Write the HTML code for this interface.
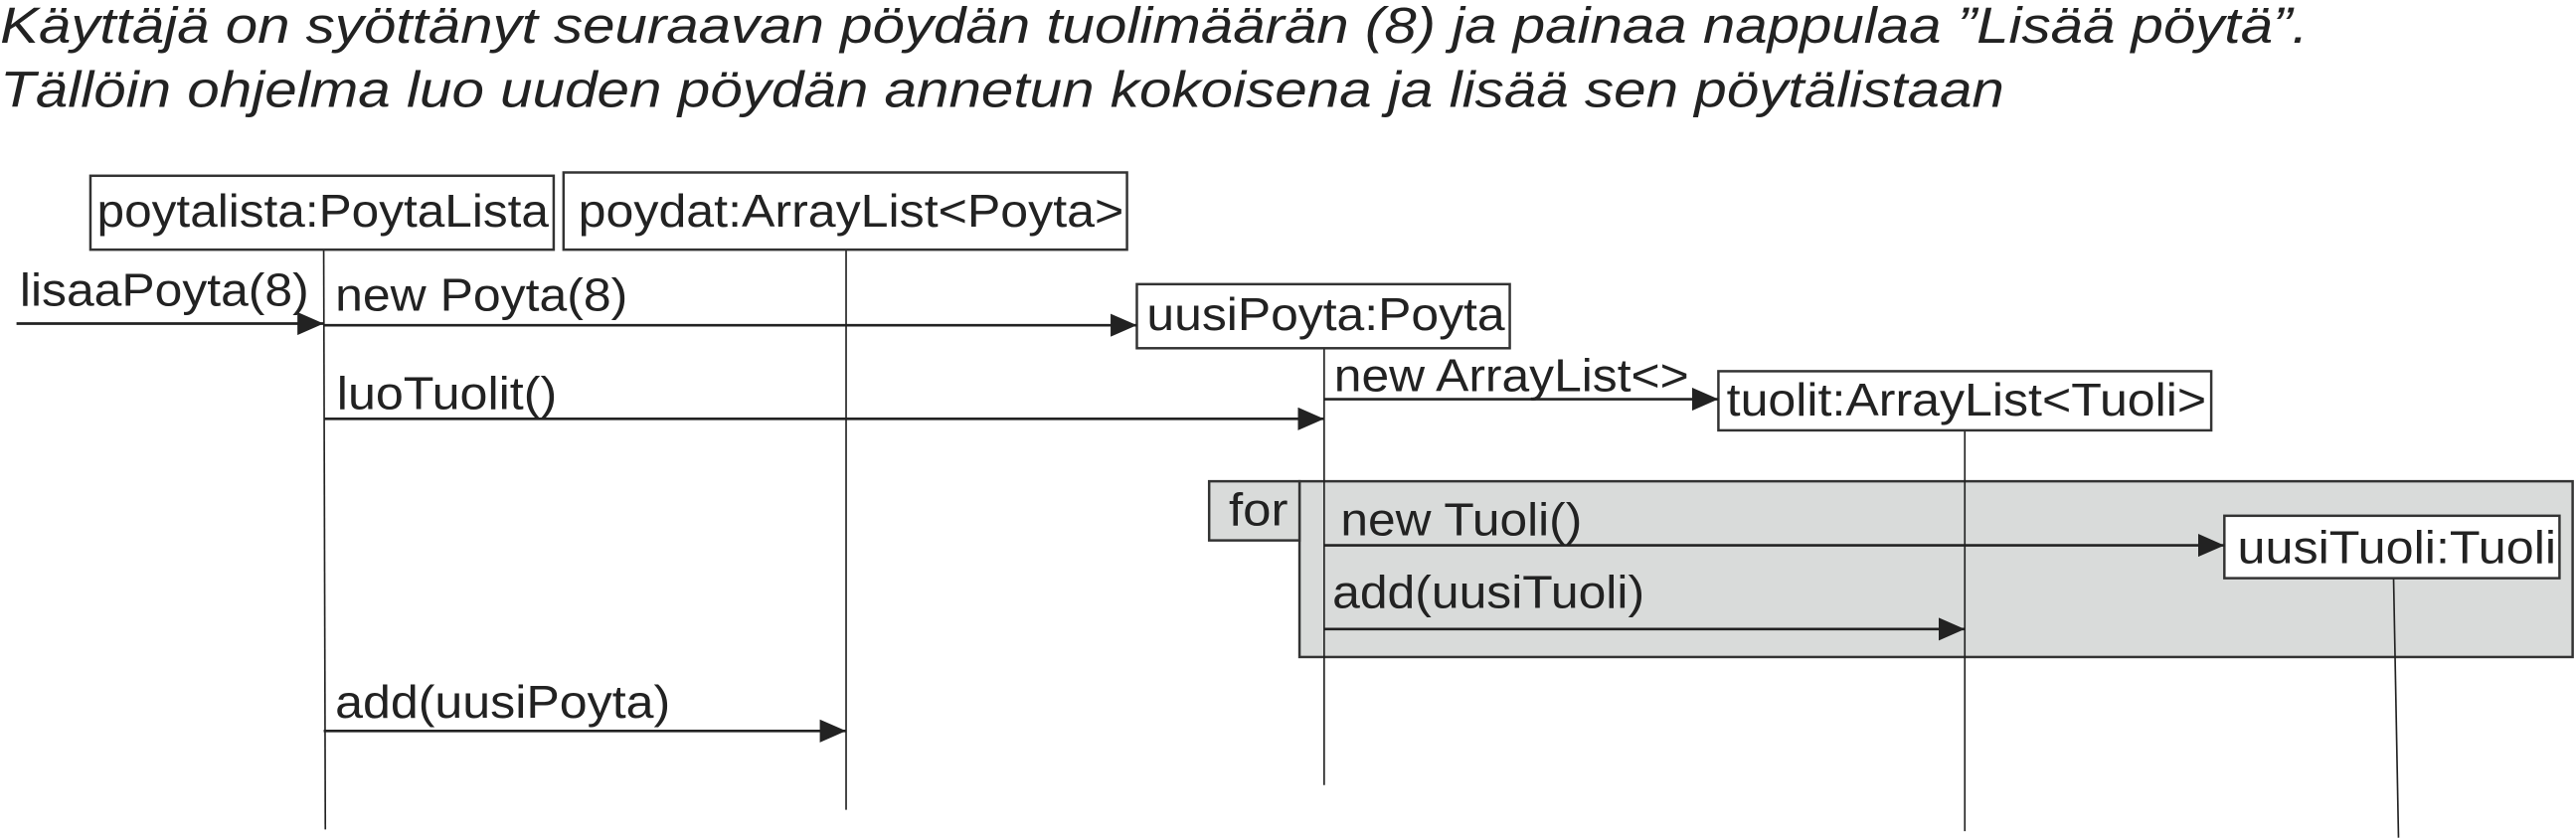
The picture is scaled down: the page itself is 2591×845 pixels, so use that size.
<!DOCTYPE html>
<html><head><meta charset="utf-8"><style>html,body{margin:0;padding:0;background:#fff}svg{display:block}</style></head>
<body>
<svg width="2591" height="845" viewBox="0 0 1568 511.4" xmlns="http://www.w3.org/2000/svg" font-family="Liberation Sans, sans-serif" fill="#222">
<defs><marker id="a" markerWidth="16" markerHeight="14" refX="16" refY="7" orient="auto" markerUnits="userSpaceOnUse" viewBox="0 0 16 14"><path d="M0,0 L16,7 L0,14 Z" fill="#222"/></marker></defs>
<g font-style="italic" font-size="31">
<text x="0" y="26" textLength="1405" lengthAdjust="spacingAndGlyphs">Käyttäjä on syöttänyt seuraavan pöydän tuolimäärän (8) ja painaa nappulaa ”Lisää pöytä”.</text>
<text x="0" y="65" textLength="1220" lengthAdjust="spacingAndGlyphs">Tällöin ohjelma luo uuden pöydän annetun kokoisena ja lisää sen pöytälistaan</text>
</g>
<rect x="791" y="293" width="775" height="107" fill="#d9dbda" stroke="#333" stroke-width="1.5"/>
<rect x="736" y="293" width="55" height="36" fill="#d9dbda" stroke="#333" stroke-width="1.5"/>
<g stroke="#222" stroke-width="1">
<line x1="197" y1="152" x2="198" y2="505"/>
<line x1="515" y1="152" x2="515" y2="493"/>
<line x1="806" y1="212" x2="806" y2="478"/>
<line x1="1196" y1="262" x2="1196" y2="506"/>
<line x1="1457" y1="352" x2="1460" y2="510"/>
</g>
<g fill="#fff" stroke="#333" stroke-width="1.5">
<rect x="55" y="107" width="282" height="45"/>
<rect x="343" y="105" width="343" height="47"/>
<rect x="692" y="173" width="227" height="39"/>
<rect x="1046" y="226" width="300" height="36"/>
<rect x="1354" y="314" width="204" height="38"/>
</g>
<g stroke="#222" stroke-width="1.6" marker-end="url(#a)">
<line x1="10" y1="197" x2="197" y2="197"/>
<line x1="197" y1="198" x2="692" y2="198"/>
<line x1="197" y1="255" x2="806" y2="255"/>
<line x1="806" y1="243" x2="1046" y2="243"/>
<line x1="806" y1="332" x2="1354" y2="332"/>
<line x1="806" y1="383" x2="1196" y2="383"/>
<line x1="197" y1="445" x2="515" y2="445"/>
</g>
<g font-size="28">
<text x="59" y="138" textLength="275" lengthAdjust="spacingAndGlyphs">poytalista:PoytaLista</text>
<text x="352" y="138" textLength="332" lengthAdjust="spacingAndGlyphs">poydat:ArrayList&lt;Poyta&gt;</text>
<text x="698" y="201" textLength="218" lengthAdjust="spacingAndGlyphs">uusiPoyta:Poyta</text>
<text x="1051" y="253" textLength="292" lengthAdjust="spacingAndGlyphs">tuolit:ArrayList&lt;Tuoli&gt;</text>
<text x="1362" y="343" textLength="194" lengthAdjust="spacingAndGlyphs">uusiTuoli:Tuoli</text>
<text x="12" y="186" textLength="176" lengthAdjust="spacingAndGlyphs">lisaaPoyta(8)</text>
<text x="204" y="189" textLength="178" lengthAdjust="spacingAndGlyphs">new Poyta(8)</text>
<text x="205" y="249" textLength="134" lengthAdjust="spacingAndGlyphs">luoTuolit()</text>
<text x="812" y="238" textLength="216" lengthAdjust="spacingAndGlyphs">new ArrayList&lt;&gt;</text>
<text x="748" y="320" textLength="36" lengthAdjust="spacingAndGlyphs">for</text>
<text x="816" y="326" textLength="147" lengthAdjust="spacingAndGlyphs">new Tuoli()</text>
<text x="811" y="370" textLength="190" lengthAdjust="spacingAndGlyphs">add(uusiTuoli)</text>
<text x="204" y="437" textLength="204" lengthAdjust="spacingAndGlyphs">add(uusiPoyta)</text>
</g>
</svg>
</body></html>
